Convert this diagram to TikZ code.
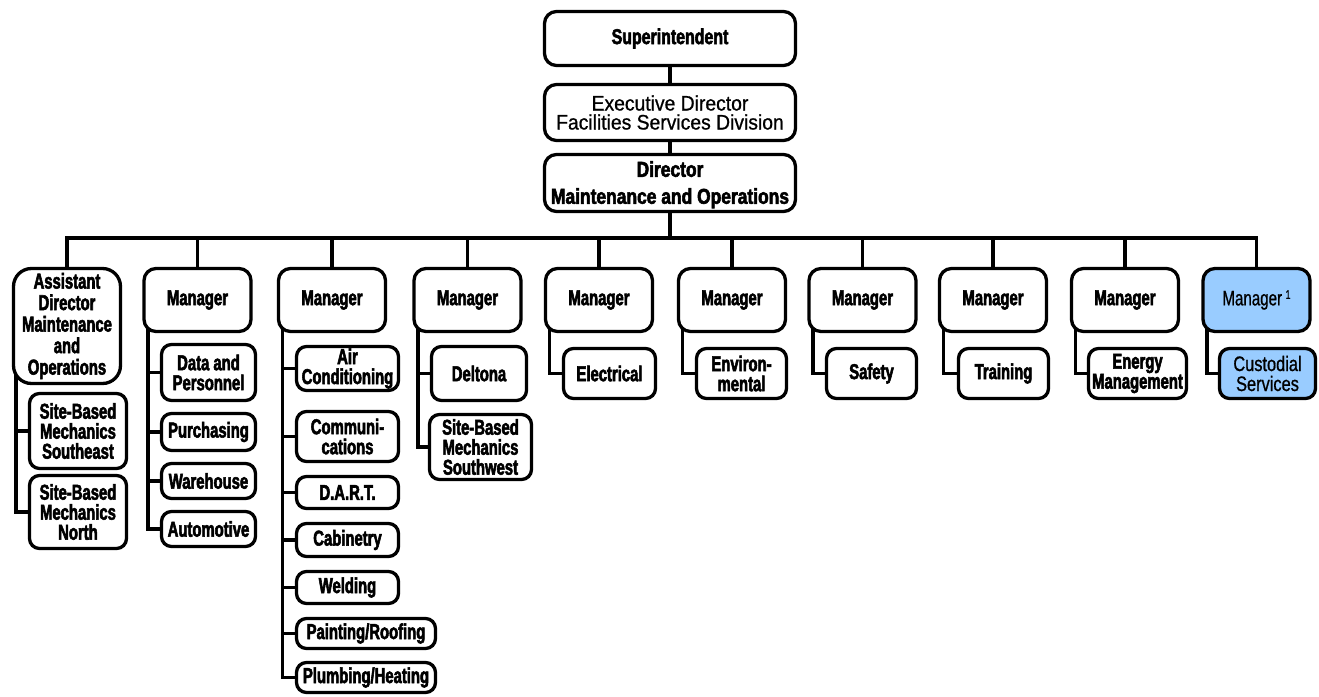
\documentclass[tikz,border=0pt]{standalone}
\usepackage{fontspec}
\setmainfont{Liberation Sans}
% condensed, heavy cuts of the same face for the box labels
\newfontfamily\fnarrow{Liberation Sans Bold}[FakeStretch=0.69, FakeBold=2.5]
\newfontfamily\fsup{Liberation Sans Bold}[FakeStretch=0.74, FakeBold=2.5]
\newfontfamily\fdir{Liberation Sans Bold}[FakeStretch=0.81, FakeBold=2.5]
\newfontfamily\fexe{Liberation Sans}[FakeStretch=0.92, FakeBold=0.8]
\newfontfamily\fcus{Liberation Sans}[FakeStretch=0.78, FakeBold=0.8]
\newfontfamily\fmgr{Liberation Sans}[FakeStretch=0.72, FakeBold=0.8]
\usetikzlibrary{backgrounds}
\definecolor{custblue}{RGB}{153,204,255}

\begin{document}
\begin{tikzpicture}[x=1pt,y=-1pt,
  box/.style={draw=black, line width=3.3pt, fill=white, rounded corners=10pt,
    inner sep=0pt, outer sep=0pt, align=center,
    font=\fnarrow\fontsize{21.5}{20}\selectfont},
  mgr/.style={box, rounded corners=12pt, minimum width=107pt, minimum height=63pt},
  unit/.style={box, minimum height=50pt},
  blue/.style={fill=custblue},
  conn/.style={draw=black, line width=3.8pt},
]
\useasboundingbox (0,0) rectangle (1319,696);

% executive chain
\node[box, rounded corners=12pt, minimum width=251pt, minimum height=54pt,
  font=\fsup\fontsize{21.5}{20}\selectfont] (sup) at (670,38.5) {Superintendent};
\node[box, rounded corners=12pt, minimum width=251pt, minimum height=56pt,
  font=\fexe\fontsize{21}{19}\selectfont] (exe) at (670,112.5)
  {Executive Director\\Facilities Services Division};
\node[box, rounded corners=12pt, minimum width=251pt, minimum height=57pt,
  font=\fdir\fontsize{21.5}{27}\selectfont] (dir) at (670,183)
  {\rule{0pt}{19pt}Director\\Maintenance and Operations};

% second level
\node[box, rounded corners=18pt, minimum width=107pt, minimum height=115pt,
  font=\fnarrow\fontsize{21.5}{21.5}\selectfont] (a1) at (67,326)
  {Assistant\\Director\\Maintenance\\and\\Operations};
\node[mgr] (m2) at (197.5,300) {Manager};
\node[mgr] (m3) at (332,300) {Manager};
\node[mgr] (m4) at (467.5,300) {Manager};
\node[mgr] (m5) at (599,300) {Manager};
\node[mgr] (m6) at (732,300) {Manager};
\node[mgr] (m7) at (862.5,300) {Manager};
\node[mgr] (m8) at (993,300) {Manager};
\node[mgr] (m9) at (1125,300) {Manager};
\node[mgr, blue, font=\fmgr\fontsize{21}{20}\selectfont] (m10) at (1256.5,300)
  {Manager\,\raisebox{6.5pt}{\fontsize{12.5}{12}\selectfont 1}};

% units under the assistant director
\node[box, minimum width=97pt, minimum height=75pt] (s1a) at (78,431)
  {Site-Based\\Mechanics\\Southeast};
\node[box, minimum width=97pt, minimum height=73pt] (s1b) at (78,512)
  {Site-Based\\Mechanics\\North};

% units, column 2
\node[box, minimum width=94pt, minimum height=56pt] (d2a) at (208.5,372.5) {Data and\\Personnel};
\node[box, minimum width=94pt, minimum height=37pt] (d2b) at (208.5,432) {Purchasing};
\node[box, minimum width=94pt, minimum height=35pt] (d2c) at (208.5,481) {Warehouse};
\node[box, minimum width=94pt, minimum height=35pt] (d2d) at (208.5,529) {Automotive};

% units, column 3
\node[box, minimum width=102pt, minimum height=44pt] (d3a) at (347.5,368.5) {Air\\Conditioning};
\node[box, minimum width=102pt, minimum height=50pt] (d3b) at (347.5,436.5) {Communi-\\cations};
\node[box, minimum width=102pt, minimum height=32pt] (d3c) at (347.5,492.5) {D.A.R.T.};
\node[box, minimum width=102pt, minimum height=33pt] (d3d) at (347.5,540) {Cabinetry};
\node[box, minimum width=102pt, minimum height=32pt] (d3e) at (347.5,587.5) {Welding};
\node[box, minimum width=139pt, minimum height=30pt] (d3f) at (366,633.5) {Painting/Roofing};
\node[box, minimum width=139pt, minimum height=30pt] (d3g) at (366,677.5) {Plumbing/Heating};

% units, column 4
\node[box, minimum width=95pt, minimum height=54pt] (d4a) at (479,373.5) {Deltona};
\node[box, minimum width=102pt, minimum height=65pt] (d4b) at (480.5,447)
  {Site-Based\\Mechanics\\Southwest};

% single units, columns 5-10
\node[unit, minimum width=92pt] (d5) at (609.5,373.5) {Electrical};
\node[unit, minimum width=90pt] (d6) at (741.5,373.5) {Environ-\\mental};
\node[unit, minimum width=90pt] (d7) at (871.5,373.5) {Safety};
\node[unit, minimum width=90pt] (d8) at (1003.5,373.5) {Training};
\node[unit, minimum width=98pt] (d9) at (1137.5,373.5) {Energy\\Management};
\node[unit, blue, minimum width=96pt, font=\fcus\fontsize{21}{20}\selectfont] (d10)
  at (1267.5,373.5) {Custodial\\Services};

\begin{pgfonlayer}{background}
  % chain of command
  \draw[conn] (sup.south) -- (exe.north);
  \draw[conn] (exe.south) -- (dir.south);
  \coordinate (busL) at (a1.north |- 0,238);
  \coordinate (busR) at (m10.north |- 0,238);
  \draw[conn] (dir.south) -- (dir.south |- busL);
  \draw[conn, line cap=rect] (busL) -- (busR);
  \foreach \m in {a1,m2,m3,m4,m5,m6,m7,m8,m9,m10}
    \draw[conn] (\m.north) -- (\m.north |- busL);

  % trunks from each head down to its units
  \foreach \m/\s in {a1/s1a,a1/s1b}
    \draw[conn] ([xshift=2.5pt]\m.west) |- (\s.west);
  \foreach \m/\s in {m2/d2a,m2/d2b,m2/d2c,m2/d2d,
                     m3/d3a,m3/d3b,m3/d3c,m3/d3d,m3/d3e,m3/d3f,m3/d3g,
                     m4/d4a,m4/d4b,m5/d5,m6/d6,m7/d7,m8/d8,m9/d9,m10/d10}
    \draw[conn] ([xshift=4pt]\m.west) |- (\s.west);
\end{pgfonlayer}
\end{tikzpicture}
\end{document}
